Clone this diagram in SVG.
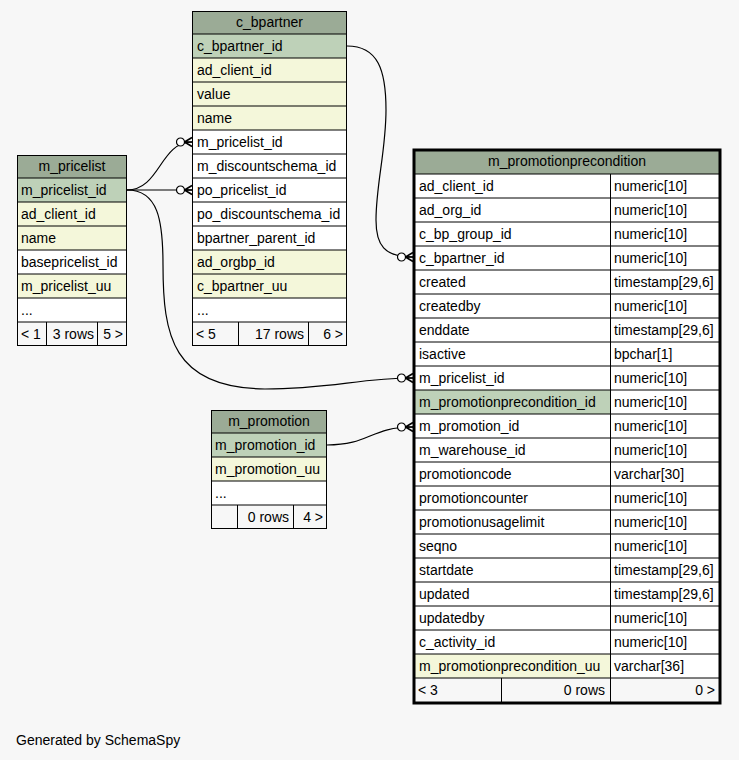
<svg xmlns="http://www.w3.org/2000/svg" width="739" height="760" viewBox="0 0 739 760">
<style>
text{font-family:"Liberation Sans",Arial,sans-serif;font-size:14px;fill:#000}
.h{fill:#9bab96}
.pk{fill:#bed1b8}
.y{fill:#f4f7da}
.w{fill:#ffffff}
.f{fill:#f7f7f7}
.c{stroke:#000;stroke-width:1}
.e{fill:none;stroke:#000;stroke-width:1.2}
.mid{text-anchor:middle}
.end{text-anchor:end}
</style>
<defs>
<marker id="cf" markerWidth="20" markerHeight="12" refX="16" refY="6" orient="auto" markerUnits="userSpaceOnUse">
<circle cx="4.5" cy="6" r="4" fill="#fff" stroke="#000" stroke-width="1.2"/>
<path d="M8.5,6 L16,6 M8.5,6 L16,1.5 M8.5,6 L16,10.5" fill="none" stroke="#000" stroke-width="1.6"/>
</marker>
</defs>
<rect width="739" height="760" fill="#f7f7f7"/>

<g id="connectors">
<path class="e" d="M347,46 C378,46 386,70 386,110 C386,150 376,185 376,220 C376,245 384,257 413,257" marker-end="url(#cf)"/>
<path class="e" d="M127,190 C160,190 160,142 192,142" marker-end="url(#cf)"/>
<path class="e" d="M127,190 L192,190" marker-end="url(#cf)"/>
<path class="e" d="M127,190 C158,190 163,220 163,265 C163,335 172,388 265,389 C330,389 360,378 413,378" marker-end="url(#cf)"/>
<path class="e" d="M327,445 C370,445 370,427 413,427" marker-end="url(#cf)"/>
</g>

<g id="c_bpartner">
<rect class="h" x="192" y="11" width="155" height="23"/>
<rect class="pk" x="192" y="34" width="155" height="24"/>
<rect class="y" x="192" y="58" width="155" height="72"/>
<rect class="w" x="192" y="130" width="155" height="120"/>
<rect class="y" x="192" y="250" width="155" height="48"/>
<rect class="w" x="192" y="298" width="155" height="24"/>
<rect class="f" x="192" y="322" width="155" height="24"/>
<path class="c" d="M192,34H347M192,58H347M192,82H347M192,106H347M192,130H347M192,154H347M192,178H347M192,202H347M192,226H347M192,250H347M192,274H347M192,298H347M192,322H347M238.5,322V346M308.5,322V346"/>
<rect x="192.5" y="11.5" width="154" height="334" fill="none" stroke="#000"/>
<text class="mid" x="269.5" y="27">c_bpartner</text>
<text x="197" y="51">c_bpartner_id</text>
<text x="197" y="75">ad_client_id</text>
<text x="197" y="99">value</text>
<text x="197" y="123">name</text>
<text x="197" y="147">m_pricelist_id</text>
<text x="197" y="171">m_discountschema_id</text>
<text x="197" y="195">po_pricelist_id</text>
<text x="197" y="219">po_discountschema_id</text>
<text x="197" y="243">bpartner_parent_id</text>
<text x="197" y="267">ad_orgbp_id</text>
<text x="197" y="291">c_bpartner_uu</text>
<text x="197" y="315">...</text>
<text x="196" y="339">&lt; 5</text>
<text class="end" x="304" y="339">17 rows</text>
<text class="end" x="343" y="339">6 &gt;</text>
</g>

<g id="m_pricelist">
<rect class="h" x="17" y="155" width="110" height="23"/>
<rect class="pk" x="17" y="178" width="110" height="24"/>
<rect class="y" x="17" y="202" width="110" height="48"/>
<rect class="w" x="17" y="250" width="110" height="24"/>
<rect class="y" x="17" y="274" width="110" height="24"/>
<rect class="w" x="17" y="298" width="110" height="24"/>
<rect class="f" x="17" y="322" width="110" height="24"/>
<path class="c" d="M17,178H127M17,202H127M17,226H127M17,250H127M17,274H127M17,298H127M17,322H127M46.5,322V346M97.5,322V346"/>
<rect x="17.5" y="155.5" width="109" height="190" fill="none" stroke="#000"/>
<text class="mid" x="72" y="171">m_pricelist</text>
<text x="21" y="195">m_pricelist_id</text>
<text x="21" y="219">ad_client_id</text>
<text x="21" y="243">name</text>
<text x="21" y="267">basepricelist_id</text>
<text x="21" y="291">m_pricelist_uu</text>
<text x="21" y="315">...</text>
<text x="21" y="339">&lt; 1</text>
<text class="end" x="94" y="339">3 rows</text>
<text class="end" x="123" y="339">5 &gt;</text>
</g>

<g id="m_promotion">
<rect class="h" x="211" y="410" width="116" height="23"/>
<rect class="pk" x="211" y="433" width="116" height="24"/>
<rect class="y" x="211" y="457" width="116" height="24"/>
<rect class="w" x="211" y="481" width="116" height="24"/>
<rect class="f" x="211" y="505" width="116" height="24"/>
<path class="c" d="M211,433H327M211,457H327M211,481H327M211,505H327M237.5,505V529M293.5,505V529"/>
<rect x="211.5" y="410.5" width="115" height="118" fill="none" stroke="#000"/>
<text class="mid" x="269" y="426">m_promotion</text>
<text x="215" y="450">m_promotion_id</text>
<text x="215" y="474">m_promotion_uu</text>
<text x="215" y="498">...</text>
<text class="end" x="289" y="522">0 rows</text>
<text class="end" x="323" y="522">4 &gt;</text>
</g>

<g id="m_promotionprecondition">
<rect class="h" x="414" y="150" width="307" height="24"/>
<rect class="w" x="414" y="174" width="307" height="504"/>
<rect class="pk" x="414" y="390" width="196" height="24"/>
<rect class="y" x="414" y="654" width="196" height="24"/>
<rect class="f" x="414" y="678" width="307" height="24"/>
<path class="c" d="M414,174H721M414,198H721M414,222H721M414,246H721M414,270H721M414,294H721M414,318H721M414,342H721M414,366H721M414,390H721M414,414H721M414,438H721M414,462H721M414,486H721M414,510H721M414,534H721M414,558H721M414,582H721M414,606H721M414,630H721M414,654H721M414,678H721M610.5,174V702M501.5,678V702"/>
<rect x="414" y="150" width="306" height="553" fill="none" stroke="#000" stroke-width="3"/>
<text class="mid" x="567" y="166">m_promotionprecondition</text>
<text x="419" y="191">ad_client_id</text><text x="614" y="191">numeric[10]</text>
<text x="419" y="215">ad_org_id</text><text x="614" y="215">numeric[10]</text>
<text x="419" y="239">c_bp_group_id</text><text x="614" y="239">numeric[10]</text>
<text x="419" y="263">c_bpartner_id</text><text x="614" y="263">numeric[10]</text>
<text x="419" y="287">created</text><text x="614" y="287">timestamp[29,6]</text>
<text x="419" y="311">createdby</text><text x="614" y="311">numeric[10]</text>
<text x="419" y="335">enddate</text><text x="614" y="335">timestamp[29,6]</text>
<text x="419" y="359">isactive</text><text x="614" y="359">bpchar[1]</text>
<text x="419" y="383">m_pricelist_id</text><text x="614" y="383">numeric[10]</text>
<text x="419" y="407">m_promotionprecondition_id</text><text x="614" y="407">numeric[10]</text>
<text x="419" y="431">m_promotion_id</text><text x="614" y="431">numeric[10]</text>
<text x="419" y="455">m_warehouse_id</text><text x="614" y="455">numeric[10]</text>
<text x="419" y="479">promotioncode</text><text x="614" y="479">varchar[30]</text>
<text x="419" y="503">promotioncounter</text><text x="614" y="503">numeric[10]</text>
<text x="419" y="527">promotionusagelimit</text><text x="614" y="527">numeric[10]</text>
<text x="419" y="551">seqno</text><text x="614" y="551">numeric[10]</text>
<text x="419" y="575">startdate</text><text x="614" y="575">timestamp[29,6]</text>
<text x="419" y="599">updated</text><text x="614" y="599">timestamp[29,6]</text>
<text x="419" y="623">updatedby</text><text x="614" y="623">numeric[10]</text>
<text x="419" y="647">c_activity_id</text><text x="614" y="647">numeric[10]</text>
<text x="419" y="671">m_promotionprecondition_uu</text><text x="614" y="671">varchar[36]</text>
<text x="418" y="695">&lt; 3</text>
<text class="end" x="605" y="695">0 rows</text>
<text class="end" x="715" y="695">0 &gt;</text>
</g>

<text x="16" y="745">Generated by SchemaSpy</text>
</svg>
